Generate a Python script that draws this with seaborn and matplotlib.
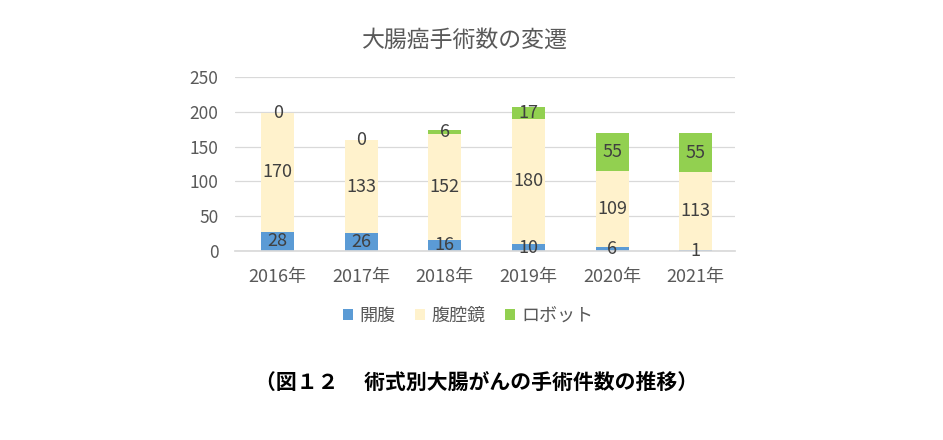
import numpy as np
import pandas as pd
import seaborn as sns
import matplotlib.pyplot as plt

years = ["2016年", "2017年", "2018年", "2019年", "2020年", "2021年"]
open_surg = [28, 26, 16, 10, 6, 1]
lap_surg = [170, 133, 152, 180, 109, 113]
robot_surg = [0, 0, 6, 17, 55, 55]

series = ["開腹", "腹腔鏡", "ロボット"]
colors = ["#5B9BD5", "#FFF2CC", "#92D050"]

sns.set_theme(style="white")
plt.rcParams['font.family'] = ['Noto Sans CJK JP', 'DejaVu Sans']

df = pd.DataFrame({"year": years, "開腹": open_surg, "腹腔鏡": lap_surg, "ロボット": robot_surg})

fig = plt.figure(figsize=(9.43, 4.4), dpi=100)
ax = fig.add_axes([235 / 943, 1 - 251 / 440, 500 / 943, 174 / 440])

bottom = np.zeros(len(years))
for name, col in zip(series, colors):
    sns.barplot(data=df, x="year", y=name, color=col, bottom=bottom, width=0.395,
                ax=ax, label=name, saturation=1, linewidth=0)
    for i, v in enumerate(df[name]):
        ax.text(i, bottom[i] + v / 2, str(v), ha="center", va="center",
                fontsize=13, color="#404040")
    bottom = bottom + df[name].values

ax.set_ylim(0, 250)
ax.set_yticks(range(0, 251, 50))
ax.set_xlim(-0.51, 5.47)
ax.grid(axis="y", color="#D9D9D9", linewidth=0.9)
ax.set_axisbelow(True)
for s in ["top", "right", "left"]:
    ax.spines[s].set_visible(False)
ax.spines["bottom"].set_color("#D9D9D9")
ax.set_xlabel("")
ax.set_ylabel("")
ax.tick_params(axis="x", length=0, labelsize=13, labelcolor="#595959", pad=12)
ax.tick_params(axis="y", length=0, labelsize=12.5, labelcolor="#595959", pad=12)

handles, labels = ax.get_legend_handles_labels()
if ax.get_legend() is not None:
    ax.get_legend().remove()
fig.legend(handles, labels, loc="center", bbox_to_anchor=(468 / 943, 1 - 316 / 440),
           ncol=3, frameon=False, fontsize=13, labelcolor="#595959",
           handlelength=0.55, handleheight=0.55, handletextpad=0.35, columnspacing=1.1)

fig.text(0.493, 0.909, "大腸癌手術数の変遷", ha="center", va="center",
         fontsize=16.5, color="#595959")
fig.text(0.505, 0.132, "（図１２　 術式別大腸がんの手術件数の推移）", ha="center", va="center",
         fontsize=15, fontweight="bold", color="#000000")

fig.savefig("out.png", dpi=100)
